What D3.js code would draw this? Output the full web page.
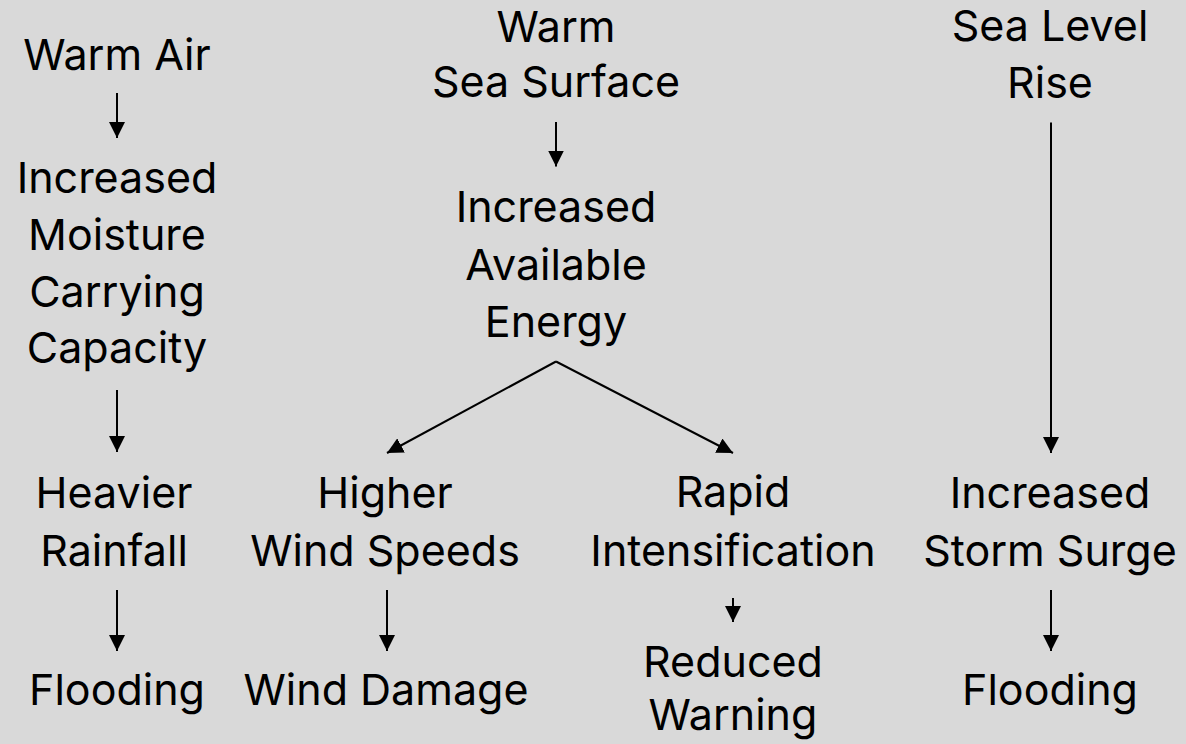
<!DOCTYPE html>
<html><head><meta charset="utf-8">
<script src="https://cdn.jsdelivr.net/npm/d3@7"></script>
<style>html,body{margin:0;padding:0;background:#d9d9d9;}</style>
</head><body><svg id="c" width="1186" height="744"></svg>
<script>
// Text lines of each box
const nodeText = [
  ["Warm Air"],
  ["Increased", "Moisture", "Carrying", "Capacity"],
  ["Heavier", "Rainfall"],
  ["Flooding"],
  ["Warm", "Sea Surface"],
  ["Increased", "Available", "Energy"],
  ["Higher", "Wind Speeds"],
  ["Wind Damage"],
  ["Rapid", "Intensification"],
  ["Reduced", "Warning"],
  ["Sea Level", "Rise"],
  ["Increased", "Storm Surge"],
  ["Flooding"]
];
// layout: centre x and baselines of each box's lines
const nodeX = [117, 117, 114, 117, 556, 556, 385, 386, 733, 733, 1050, 1050, 1050];
const nodeBaselines = [
  [69.5],
  [192.5, 250, 307, 363],
  [507.5, 566],
  [705],
  [41.5, 97],
  [221.5, 279.5, 337],
  [507.5, 566],
  [705],
  [507, 566],
  [677, 730],
  [41, 97.5],
  [508, 566],
  [705]
];
// arrows [from, to]
const links = [
  [[117, 93], [117, 138]],
  [[117, 390], [117, 452]],
  [[117, 590], [117, 651]],
  [[556, 122], [556, 166.5]],
  [[556, 361.5], [387, 453]],
  [[556, 361.5], [733, 453]],
  [[387, 590], [387, 651]],
  [[733, 598], [733, 622]],
  [[1051, 122.5], [1051, 453]],
  [[1051, 590], [1051, 651]]
];

const svg = d3.select("#c");
svg.append("rect").attr("width",1186).attr("height",744).attr("fill","#d9d9d9");
const defs = svg.append("defs");
defs.append("marker").attr("id","ah").attr("viewBox","0 0 10 10")
  .attr("refX",10).attr("refY",5).attr("markerWidth",16).attr("markerHeight",16)
  .attr("markerUnits","userSpaceOnUse").attr("orient","auto")
  .append("path").attr("d","M0,0 L10,5 L0,10 Z").attr("fill","#000");

const line = d3.line();
svg.append("g").selectAll("path").data(links).join("path")
  .attr("d", d => line(d))
  .attr("stroke","#000").attr("stroke-width",2).attr("fill","none")
  .attr("marker-end","url(#ah)");

const g = svg.append("g").attr("font-family","Inter, 'Open Sans', sans-serif")
  .attr("font-size",43).attr("fill","#000").attr("text-anchor","middle");
g.selectAll("g").data(nodeText).join("g")
  .each(function(lines, i) {
    d3.select(this).selectAll("text").data(lines).join("text")
      .attr("x", nodeX[i])
      .attr("y", (t, j) => nodeBaselines[i][j])
      .text(t => t);
  });
</script></body></html>
